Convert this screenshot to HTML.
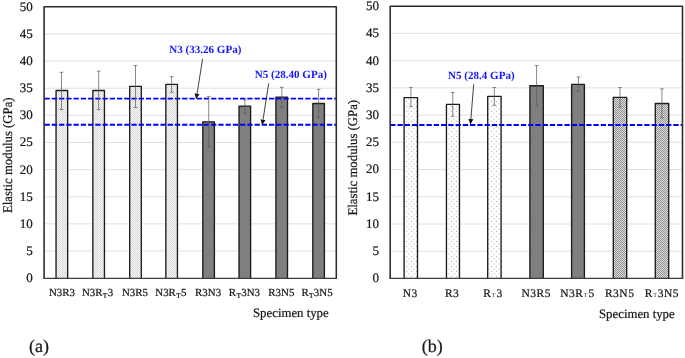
<!DOCTYPE html>
<html lang="en"><head><meta charset="utf-8"><title>Elastic modulus</title>
<style>
html,body{margin:0;padding:0;background:#fff;}
body{width:685px;height:358px;overflow:hidden;}
svg{display:block;}
text{text-rendering:geometricPrecision;font-family:"Liberation Serif", "DejaVu Serif", serif;fill:#161616;stroke:#161616;stroke-width:0.22px;}
.tk{font-size:13px;text-anchor:end;}
.ttl{font-size:12.8px;}
.yt{font-size:13.2px;}
.xa{font-size:10.9px;text-anchor:middle;}
.xb{font-size:11.5px;letter-spacing:0.5px;text-anchor:middle;}
.an{font-size:11.05px;font-weight:bold;fill:#1414ff;stroke:none;}
.cap{font-size:18px;}
.xb .sb{stroke:none;fill:#3a3a3a;}
.grid line{stroke:#d9d9d9;stroke-width:0.8;}
.eb{stroke:#5a5a5a;stroke-width:0.72;fill:none;}
.bl{stroke:#0000ff;stroke-width:1.9;fill:none;}
.ar{stroke:#111;stroke-width:0.8;fill:none;}
.bar{stroke:#1c1c1c;stroke-width:1.35;stroke-linejoin:round;}
.fr{stroke:#2a2a2a;stroke-width:1.55;fill:none;stroke-linejoin:round;}
.ax{stroke:#3c3c3c;stroke-width:1.15;}
</style></head><body>
<svg width="685" height="358" viewBox="0 0 685 358">
<defs>
<pattern id="pA" width="2" height="2" patternUnits="userSpaceOnUse"><rect width="2" height="2" fill="#f7f7f7"/><rect x="0" y="0" width="1" height="1" fill="#d8d8d8"/><rect x="1" y="1" width="1" height="1" fill="#d8d8d8"/></pattern>
<pattern id="pB" width="5" height="5" patternUnits="userSpaceOnUse"><rect width="5" height="5" fill="#fff"/><rect x="1" y="1" width="1" height="1" fill="#b0b0b0"/><rect x="3.5" y="3.5" width="1" height="1" fill="#b8b8b8"/></pattern>
<pattern id="pC" width="2" height="2" patternUnits="userSpaceOnUse"><rect width="2" height="2" fill="#dcdcdc"/><path d="M-0.5,1.5 L1.5,-0.5 M0.5,2.5 L2.5,0.5" stroke="#808080" stroke-width="0.8"/></pattern>
<marker id="ah" viewBox="0 0 10 10" refX="9" refY="5" markerWidth="5.3" markerHeight="5.6" markerUnits="userSpaceOnUse" orient="auto"><path d="M0,0.3 L10,5 L0,9.7 Z" fill="#111"/></marker>
</defs>
<rect width="685" height="358" fill="#fff"/>
<g class="grid"><line x1="44.10" y1="250.98" x2="336.30" y2="250.98"/><line x1="44.10" y1="223.86" x2="336.30" y2="223.86"/><line x1="44.10" y1="196.74" x2="336.30" y2="196.74"/><line x1="44.10" y1="169.62" x2="336.30" y2="169.62"/><line x1="44.10" y1="142.50" x2="336.30" y2="142.50"/><line x1="44.10" y1="115.38" x2="336.30" y2="115.38"/><line x1="44.10" y1="88.26" x2="336.30" y2="88.26"/><line x1="44.10" y1="61.14" x2="336.30" y2="61.14"/><line x1="44.10" y1="34.02" x2="336.30" y2="34.02"/></g>
<path class="bar" d="M56.05,278.30 V90.50 H67.65 V278.30" fill="url(#pA)"/><path class="bar" d="M92.85,278.30 V90.50 H104.45 V278.30" fill="url(#pA)"/><path class="bar" d="M129.70,278.30 V86.40 H141.30 V278.30" fill="url(#pA)"/><path class="bar" d="M165.85,278.30 V84.30 H177.45 V278.30" fill="url(#pA)"/><path class="bar" d="M202.80,278.30 V121.80 H214.40 V278.30" fill="#7f7f7f"/><path class="bar" d="M239.00,278.30 V106.10 H250.60 V278.30" fill="#7f7f7f"/><path class="bar" d="M275.90,278.30 V97.05 H287.50 V278.30" fill="#7f7f7f"/><path class="bar" d="M312.80,278.30 V103.50 H324.40 V278.30" fill="#7f7f7f"/>
<line class="bl" stroke-dasharray="5.25 1.99" x1="44.60" y1="98.60" x2="336.00" y2="98.60"/><line class="bl" stroke-dasharray="5.25 1.99" x1="44.60" y1="124.75" x2="336.00" y2="124.75"/>
<path class="eb" d="M61.50,72.30 V109.60 M59.70,72.30 h3.6 M59.70,109.60 h3.6"/><path class="eb" d="M98.65,71.15 V109.60 M96.85,71.15 h3.6 M96.85,109.60 h3.6"/><path class="eb" d="M135.50,65.55 V107.50 M133.70,65.55 h3.6 M133.70,107.50 h3.6"/><path class="eb" d="M171.65,76.70 V92.30 M169.85,76.70 h3.6 M169.85,92.30 h3.6"/><path class="eb" d="M208.70,96.40 V147.00 M206.90,96.40 h3.6 M206.90,147.00 h3.6"/><path class="eb" d="M244.80,99.90 V113.20 M243.00,99.90 h3.6 M243.00,113.20 h3.6"/><path class="eb" d="M281.80,87.30 V107.30 M280.00,87.30 h3.6 M280.00,107.30 h3.6"/><path class="eb" d="M318.60,89.30 V117.80 M316.80,89.30 h3.6 M316.80,117.80 h3.6"/>
<path class="fr" d="M44.10,278.80 V6.80 H336.30 V278.80"/><line class="ax" x1="43.40" y1="278.30" x2="337.00" y2="278.30"/>
<text class="tk" x="32.80" y="282.00">0</text><text class="tk" x="32.80" y="254.88">5</text><text class="tk" x="32.80" y="227.76">10</text><text class="tk" x="32.80" y="200.64">15</text><text class="tk" x="32.80" y="173.52">20</text><text class="tk" x="32.80" y="146.40">25</text><text class="tk" x="32.80" y="119.28">30</text><text class="tk" x="32.80" y="92.16">35</text><text class="tk" x="32.80" y="65.04">40</text><text class="tk" x="32.80" y="37.92">45</text><text class="tk" x="32.80" y="10.80">50</text>
<g class="grid"><line x1="390.20" y1="251.26" x2="682.50" y2="251.26"/><line x1="390.20" y1="224.03" x2="682.50" y2="224.03"/><line x1="390.20" y1="196.80" x2="682.50" y2="196.80"/><line x1="390.20" y1="169.56" x2="682.50" y2="169.56"/><line x1="390.20" y1="142.32" x2="682.50" y2="142.32"/><line x1="390.20" y1="115.09" x2="682.50" y2="115.09"/><line x1="390.20" y1="87.85" x2="682.50" y2="87.85"/><line x1="390.20" y1="60.62" x2="682.50" y2="60.62"/><line x1="390.20" y1="33.38" x2="682.50" y2="33.38"/></g>
<path class="bar" d="M404.10,278.40 V97.60 H417.50 V278.40" fill="url(#pB)"/><path class="bar" d="M446.45,278.40 V104.30 H459.45 V278.40" fill="url(#pB)"/><path class="bar" d="M487.70,278.40 V96.35 H501.10 V278.40" fill="url(#pB)"/><path class="bar" d="M529.90,278.40 V85.70 H543.30 V278.40" fill="#7f7f7f"/><path class="bar" d="M571.60,278.40 V84.40 H584.40 V278.40" fill="#7f7f7f"/><path class="bar" d="M613.30,278.40 V97.30 H626.70 V278.40" fill="url(#pC)"/><path class="bar" d="M655.30,278.40 V103.50 H668.70 V278.40" fill="url(#pC)"/>
<line class="bl" stroke-dasharray="5.29 1.97" x1="390.20" y1="125.00" x2="682.20" y2="125.00"/>
<path class="eb" d="M410.90,87.40 V106.70 M409.10,87.40 h3.6 M409.10,106.70 h3.6"/><path class="eb" d="M452.75,92.40 V116.20 M450.95,92.40 h3.6 M450.95,116.20 h3.6"/><path class="eb" d="M494.30,87.50 V105.30 M492.50,87.50 h3.6 M492.50,105.30 h3.6"/><path class="eb" d="M536.60,65.55 V105.85 M534.80,65.55 h3.6 M534.80,105.85 h3.6"/><path class="eb" d="M578.40,77.00 V91.40 M576.60,77.00 h3.6 M576.60,91.40 h3.6"/><path class="eb" d="M620.00,87.50 V107.00 M618.20,87.50 h3.6 M618.20,107.00 h3.6"/><path class="eb" d="M661.90,88.80 V117.80 M660.10,88.80 h3.6 M660.10,117.80 h3.6"/>
<path class="fr" d="M390.20,278.90 V6.15 H682.50 V278.90"/><line class="ax" x1="389.50" y1="278.40" x2="683.20" y2="278.40"/>
<text class="tk" x="378.90" y="282.40">0</text><text class="tk" x="378.90" y="255.16">5</text><text class="tk" x="378.90" y="227.93">10</text><text class="tk" x="378.90" y="200.70">15</text><text class="tk" x="378.90" y="173.46">20</text><text class="tk" x="378.90" y="146.22">25</text><text class="tk" x="378.90" y="118.99">30</text><text class="tk" x="378.90" y="91.75">35</text><text class="tk" x="378.90" y="64.52">40</text><text class="tk" x="378.90" y="37.28">45</text><text class="tk" x="378.90" y="10.05">50</text>
<text class="an" x="169.3" y="52.8">N3 (33.26 GPa)</text>
<text class="an" x="254.8" y="77.6">N5 (28.40 GPa)</text>
<line class="ar" x1="202.6" y1="58.8" x2="196.3" y2="98.4" marker-end="url(#ah)"/>
<line class="ar" x1="268.7" y1="83.4" x2="262.3" y2="124.4" marker-end="url(#ah)"/>
<text class="an" x="448.0" y="78.7">N5 (28.4 GPa)</text>
<line class="ar" x1="473.7" y1="84.3" x2="470.5" y2="123.8" marker-end="url(#ah)"/>
<text class="xa" x="62.00" y="295.60">N3R3</text><text class="xa" x="97.50" y="295.60">N3R<tspan class="sb" font-size="7.4px" dy="2.5" dx="0.35">T</tspan><tspan dy="-2.5" dx="0.35">3</tspan></text><text class="xa" x="135.00" y="295.60">N3R5</text><text class="xa" x="170.90" y="295.60">N3R<tspan class="sb" font-size="7.4px" dy="2.5" dx="0.35">T</tspan><tspan dy="-2.5" dx="0.35">5</tspan></text><text class="xa" x="208.10" y="295.60">R3N3</text><text class="xa" x="244.45" y="295.60">R<tspan class="sb" font-size="7.4px" dy="2.5" dx="0.35">T</tspan><tspan dy="-2.5" dx="0.35">3N3</tspan></text><text class="xa" x="281.35" y="295.60">R3N5</text><text class="xa" x="317.00" y="295.60">R<tspan class="sb" font-size="7.4px" dy="2.5" dx="0.35">T</tspan><tspan dy="-2.5" dx="0.35">3N5</tspan></text>
<text class="xb" x="410.30" y="296.50">N3</text><text class="xb" x="452.15" y="296.50">R3</text><text class="xb" x="493.00" y="296.50">R<tspan class="sb" font-size="6.2px" dy="0.7" dx="0.35">T</tspan><tspan dy="-0.7" dx="0.35">3</tspan></text><text class="xb" x="536.20" y="296.50">N3R5</text><text class="xb" x="577.50" y="296.50">N3R<tspan class="sb" font-size="6.2px" dy="0.7" dx="0.35">T</tspan><tspan dy="-0.7" dx="0.35">5</tspan></text><text class="xb" x="619.70" y="296.50">R3N5</text><text class="xb" x="661.90" y="296.50">R<tspan class="sb" font-size="6.2px" dy="0.7" dx="0.35">T</tspan><tspan dy="-0.7" dx="0.35">3N5</tspan></text>
<text class="ttl" x="253.0" y="316.5">Specimen type</text>
<text class="ttl" x="599.0" y="317.5">Specimen type</text>
<text class="yt" textLength="115.6" lengthAdjust="spacingAndGlyphs" transform="translate(11.7,213.0) rotate(-90)">Elastic modulus (GPa)</text>
<text class="yt" textLength="115.6" lengthAdjust="spacingAndGlyphs" transform="translate(356.8,215.5) rotate(-90)">Elastic modulus (GPa)</text>
<text class="cap" x="29.0" y="351.6">(a)</text>
<text class="cap" x="421.8" y="351.6">(b)</text>
</svg>
</body></html>
